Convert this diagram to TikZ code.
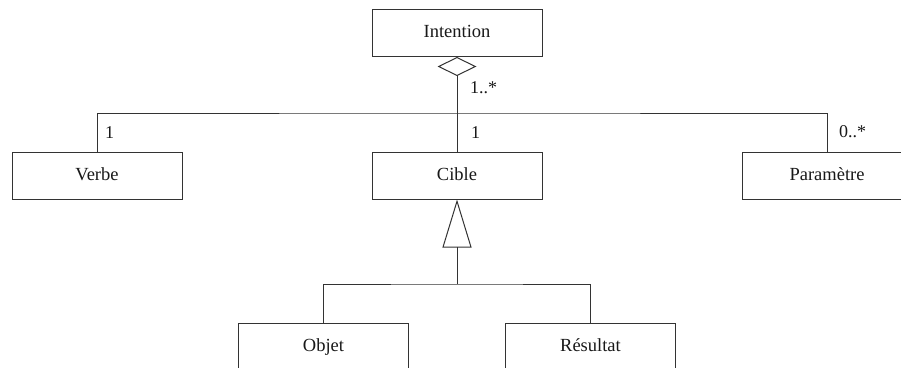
\documentclass[tikz,border=0pt]{standalone}
\usepackage{fontspec}
\setmainfont{Liberation Serif}
\usetikzlibrary{arrows.meta}
\begin{document}
\begin{tikzpicture}[x=1pt,y=-1pt,
  cls/.style={draw=black!80,line width=1pt,minimum width=170pt,minimum height=47pt,inner sep=0pt,text height=12pt,text depth=3pt,font=\fontsize{18.5}{22}\selectfont,text=black!90},
  lnk/.style={draw=black!80,line width=1pt},
  mult/.style={anchor=west,inner sep=0pt,font=\fontsize{18}{21}\selectfont,text=black!90}]
\useasboundingbox (0,0) rectangle (901,367);
\fill[white] (0,0) rectangle (901,367);
\node[cls] (Intention) at (457,33) {Intention};
\node[cls] (Verbe) at (97,175.5) {Verbe};
\node[cls] (Cible) at (457,175.5) {Cible};
\node[cls] (Param) at (827,175.5) {Paramètre};
\node[cls] (Objet) at (323.5,346.5) {Objet};
\node[cls] (Resultat) at (590.5,346.5) {Résultat};
\coordinate (jt) at (457,113);
\coordinate (jb) at (457,284);
\draw[lnk,{Diamond[open,length=19pt,width=39pt,line width=1pt]}-] (Intention.south) -- (jt);
\draw[lnk] (Verbe.north) |- (jt) -| (Param.north);
\draw[lnk] (jt) -- (Cible.north);
\draw[lnk,{Triangle[open,length=48pt,width=29pt,line width=1pt]}-] (Cible.south) -- (jb);
\draw[lnk] (Objet.north) |- (jb) -| (Resultat.north);
\node[mult] (m1) at (470,88) {1..*};
\node[mult] (m2) at (105,133) {1};
\node[mult] (m3) at (471,133) {1};
\node[mult] (m4) at (839,132) {0..*};
\end{tikzpicture}
\end{document}
